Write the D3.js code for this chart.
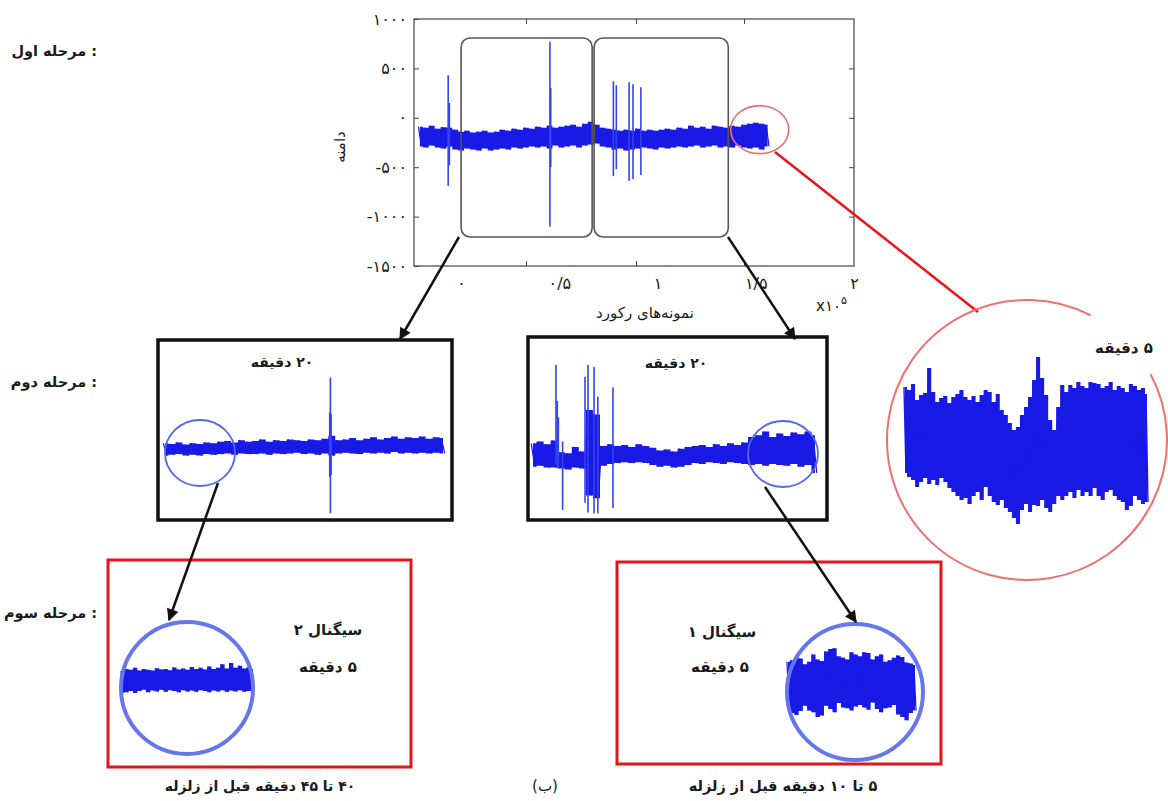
<!DOCTYPE html>
<html>
<head>
<meta charset="utf-8">
<script src="https://cdn.jsdelivr.net/npm/d3@7"></script>
<style>
    body { margin: 0; background: #fff; }
    svg { display: block; }
    text { font-family: "DejaVu Sans", sans-serif; fill: #1a1a1a; }
    .fa { direction: rtl; unicode-bidi: embed; }
</style>
</head>
<body>
<div id="chart"></div>
<script>
// ---- data ----

// top record (x in units of 10^5 samples, amplitude in counts)
const xTicks = [0, 0.5, 1, 1.5, 2];
const xTickLabels = ["۰", "۰/۵", "۱", "۱/۵", "۲"];
const xTickMarks = [0.33, 0.89, 1.44];
const yTicks = [1000, 500, 0, -500, -1000, -1500];
const yTickLabels = ["۱۰۰۰", "۵۰۰", "۰", "-۵۰۰", "-۱۰۰۰", "-۱۵۰۰"];

const topStart = -0.21, topStep = 0.03;
const topHi = [-90, -100, -80, -110, -95, -100, -120, -140, -130, -150,
    -140, -130, -150, -140, -120, -130, -110, -120, -100, -110,
    -90, -100, -80, -100, -90, -80, -70, -90, -60, -40,
    -70, -100, -110, -120, -130, -120, -130, -110, -130, -120,
    -130, -120, -110, -120, -100, -110, -80, -100, -90, -110,
    -80, -90, -100, -80, -90, -70, -60, -50, -60, -70];
const topLo = [-290, -300, -280, -300, -310, -290, -320, -330, -310, -320,
    -330, -310, -330, -320, -310, -320, -300, -310, -300, -290,
    -300, -290, -310, -280, -300, -290, -280, -300, -280, -270,
    -260, -290, -300, -320, -310, -330, -320, -310, -300, -310,
    -320, -300, -310, -300, -290, -300, -290, -280, -300, -290,
    -280, -300, -290, -300, -280, -300, -310, -300, -320, -290];
// [position, max, min]
const topSpikes = [[-0.066, 430, -690], [-0.06, 150, -480], [0.452, 770, -1100], [0.456, 300, -500],
    [0.775, 370, -590], [0.79, 330, -520], [0.855, 360, -640], [0.875, 340, -620], [0.915, 310, -580]];

// stage 2, left panel (minutes)
const mlStep = 0.5;
const mlHi = [80, 70, 90, 60, 80, 70, 90, 80, 100, 110, 90, 120, 100, 110, 130, 100,
    120, 110, 130, 120, 110, 130, 120, 140, 180, 120, 130, 150, 120, 140, 160, 130,
    150, 170, 140, 160, 150, 170, 140, 160, 150];
const mlLo = [-90, -80, -70, -90, -80, -90, -70, -80, -70, -60, -80, -60, -70, -70, -60, -80,
    -60, -70, -60, -50, -70, -60, -80, -60, -90, -60, -50, -60, -70, -50, -60, -50,
    -60, -40, -60, -50, -60, -50, -60, -50, -60];
const mlSpikes = [[11.9, 980, -880], [11.85, 500, -380], [11.95, 480, -360]];

// stage 2, right panel (minutes)
const mrStep = 0.5;
const mrHi = [130, 150, 120, 160, 30, 20, 90, 40, 500, 450, 100, 120, 100, 110, 90, 120,
    100, 80, 50, 60, 40, 70, 90, 100, 110, 90, 120, 100, 130, 110, 140, 200,
    220, 260, 200, 240, 210, 250, 230, 260, 220];
const mrLo = [-130, -120, -140, -140, -150, -160, -140, -150, -450, -480, -120, -100, -90, -80, -90, -80,
    -90, -110, -130, -120, -140, -130, -110, -90, -100, -80, -90, -100, -80, -90, -100, -110,
    -100, -120, -100, -110, -120, -100, -130, -110, -200];
const mrSpikes = [[1.63, 1000, -100], [1.72, 600, -120], [1.8, 420, -150], [2.1, 150, -610],
    [3.69, 870, -530], [3.9, 1000, -640], [4.33, 980, -650], [4.6, 650, -650], [5.67, 750, -590]];

// stage 3, signal 2 (40-45 min before) and signal 1 (5-10 min before)
const s2Step = 1 / 6;
const s2Hi = [250, 300, 280, 330, 260, 300, 280, 260, 320, 290, 300, 270, 340, 290, 310, 280,
    350, 300, 330, 290, 360, 300, 330, 420, 310, 450, 330, 380, 310, 340, 300];
const s2Lo = [-300, -280, -250, -300, -250, -220, -280, -240, -260, -220, -270, -230, -250, -280, -230, -260,
    -240, -270, -230, -250, -280, -240, -260, -230, -270, -240, -260, -230, -270, -250, -260];
const s1Step = 1 / 6;
const s1Hi = [580, 620, 700, 660, 520, 580, 760, 640, 600, 840, 900, 920, 720, 680, 640, 820,
    760, 720, 820, 800, 640, 720, 760, 580, 620, 680, 740, 700, 560, 540, 500];
const s1Lo = [-580, -700, -750, -650, -520, -640, -680, -800, -760, -520, -600, -680, -450, -560, -580, -640,
    -540, -500, -560, -620, -440, -600, -680, -580, -560, -500, -740, -800, -880, -700, -640];

// 5 minute zoom of the end of the record
const s5Step = 5 / 60;
const s5Hi = [530, 500, 560, 400, 450, 470, 720, 480, 380, 420, 440, 370, 430, 460, 500, 430,
    400, 440, 380, 450, 500, 480, 380, 460, 300, 250, 170, 100, 130, 250, 330, 430,
    600, 830, 620, 450, 200, 100, 330, 550, 480, 550, 520, 580, 540, 520, 580, 570,
    560, 520, 540, 580, 500, 540, 520, 480, 560, 540, 500, 520, 460];
const s5Lo = [-330, -370, -400, -470, -420, -380, -440, -400, -450, -380, -420, -480, -520, -560, -600, -580,
    -640, -560, -520, -600, -470, -560, -620, -650, -600, -680, -720, -780, -840, -700, -640, -720,
    -650, -660, -600, -680, -720, -640, -560, -600, -560, -520, -580, -500, -560, -520, -560, -480,
    -560, -600, -520, -500, -560, -600, -620, -700, -660, -560, -600, -640, -620];

// ---- drawing ----
const W = 1168, H = 801;
const BLUE = "#1a1ae6", SPIKE = "#3344ee";

const svg = d3.select("#chart").append("svg")
    .attr("width", W)
    .attr("height", H);

svg.append("defs").append("marker")
    .attr("id", "ah")
    .attr("viewBox", "0 0 10 10")
    .attr("refX", 9).attr("refY", 5)
    .attr("markerWidth", 14).attr("markerHeight", 12)
    .attr("markerUnits", "userSpaceOnUse")
    .attr("orient", "auto")
    .append("path")
    .attr("d", "M0,0L10,5L0,10z")
    .attr("fill", "#111");

// dense signal: a band between the max and min of each sample bin,
// plus a zigzag trace running max -> min inside every bin
function band(g, x, y, start, step, hi, lo, lw) {
    const area = d3.area()
        .curve(d3.curveStep)
        .x((d, i) => x(start + i * step))
        .y0((d, i) => y(lo[i]))
        .y1((d, i) => y(hi[i]));
    g.append("path")
        .attr("d", area(hi))
        .attr("fill", BLUE);

    const pts = [];
    hi.forEach((h, i) => {
        const t = start + i * step;
        pts.push([x(t - step / 4), y(h)]);
        pts.push([x(t + step / 4), y(lo[i])]);
    });
    g.append("path")
        .attr("d", d3.line()(pts))
        .attr("fill", "none")
        .attr("stroke", BLUE)
        .attr("stroke-width", lw || 1.2)
        .attr("stroke-linejoin", "bevel");
}

function spikes(g, x, y, list) {
    g.selectAll(null)
        .data(list)
        .enter().append("line")
        .attr("x1", d => x(d[0])).attr("x2", d => x(d[0]))
        .attr("y1", d => y(d[1])).attr("y2", d => y(d[2]))
        .attr("stroke", SPIKE)
        .attr("stroke-width", 1.6);
}

function faText(x, y, str, size, bold, anchor) {
    return svg.append("text")
        .attr("class", "fa")
        .attr("x", x).attr("y", y)
        .attr("text-anchor", anchor || "middle")
        .attr("font-size", size)
        .attr("font-weight", bold ? "bold" : "normal")
        .text(str);
}

function arrow(x1, y1, x2, y2) {
    svg.append("line")
        .attr("x1", x1).attr("y1", y1)
        .attr("x2", x2).attr("y2", y2)
        .attr("stroke", "#111")
        .attr("stroke-width", 2.5)
        .attr("marker-end", "url(#ah)");
}

// stage labels
faText(97, 56, ": مرحله اول", 14.5, true, "start");
faText(97, 387, ": مرحله دوم", 14.5, true, "start");
faText(97, 618, ": مرحله سوم", 14.5, true, "start");

// ---- top record ----
const xTop = d3.scaleLinear().domain([-0.24, 2]).range([414, 854]);
const yTop = d3.scaleLinear().domain([-1500, 1000]).range([266, 19]);
const gTop = svg.append("g");

gTop.append("rect")
    .attr("x", xTop(-0.24)).attr("y", yTop(1000))
    .attr("width", xTop(2) - xTop(-0.24))
    .attr("height", yTop(-1500) - yTop(1000))
    .attr("fill", "none")
    .attr("stroke", "#444")
    .attr("stroke-width", 1.2);

const axL = gTop.append("g")
    .attr("transform", `translate(${xTop(-0.24)},0)`)
    .call(d3.axisLeft(yTop).tickValues(yTicks)
        .tickFormat((d, i) => yTickLabels[i])
        .tickSizeInner(-5).tickSizeOuter(0).tickPadding(7));
const axR = gTop.append("g")
    .attr("transform", `translate(${xTop(2)},0)`)
    .call(d3.axisRight(yTop).tickValues(yTicks.slice(1, 5))
        .tickFormat("").tickSizeInner(-5).tickSizeOuter(0));
const axB = gTop.append("g")
    .attr("transform", `translate(0,${yTop(-1500)})`)
    .call(d3.axisBottom(xTop).tickValues(xTicks)
        .tickFormat((d, i) => xTickLabels[i])
        .tickSize(0).tickPadding(12));
const axBm = gTop.append("g")
    .attr("transform", `translate(0,${yTop(-1500)})`)
    .call(d3.axisBottom(xTop).tickValues(xTickMarks)
        .tickFormat("").tickSizeInner(-5).tickSizeOuter(0));
const axT = gTop.append("g")
    .attr("transform", `translate(0,${yTop(1000)})`)
    .call(d3.axisTop(xTop).tickValues(xTickMarks)
        .tickFormat("").tickSizeInner(-5).tickSizeOuter(0));
[axL, axR, axB, axBm, axT].forEach(a => {
    a.select(".domain").remove();
    a.selectAll("line").attr("stroke", "#444");
    a.selectAll("text")
        .attr("font-size", 16)
        .attr("letter-spacing", 1.5)
        .attr("font-family", "DejaVu Sans")
        .attr("fill", "#1a1a1a");
});

band(gTop, xTop, yTop, topStart, topStep, topHi, topLo);
spikes(gTop, xTop, yTop, topSpikes);

// the two 20 minute windows
gTop.selectAll(".win")
    .data([[0, 0.667], [0.677, 1.36]])
    .enter().append("rect")
    .attr("x", d => xTop(d[0]))
    .attr("y", yTop(808))
    .attr("width", d => xTop(d[1]) - xTop(d[0]))
    .attr("height", yTop(-1206) - yTop(808))
    .attr("rx", 9)
    .attr("fill", "none")
    .attr("stroke", "#555")
    .attr("stroke-width", 1.6);

gTop.append("ellipse")
    .attr("cx", xTop(1.52)).attr("cy", yTop(-120))
    .attr("rx", 29).attr("ry", 24)
    .attr("fill", "none")
    .attr("stroke", "#e87070")
    .attr("stroke-width", 1.6);

svg.append("text")
    .attr("class", "fa")
    .attr("transform", "translate(345,147) rotate(-90)")
    .attr("text-anchor", "middle")
    .attr("font-size", 15)
    .text("دامنه");
faText(645, 318, "نمونه\u200cهای رکورد", 15, false);
const xPow = svg.append("text")
    .attr("x", 816).attr("y", 311)
    .attr("font-size", 15);
xPow.append("tspan").text("x۱۰");
xPow.append("tspan").attr("dy", -7).attr("font-size", 11).text("۵");

// red zoom line and big circle
svg.append("line")
    .attr("x1", 775).attr("y1", 152)
    .attr("x2", 978).attr("y2", 312)
    .attr("stroke", "#e8151b")
    .attr("stroke-width", 2.5);

const bigArc = d3.arc()
    .innerRadius(140).outerRadius(140)
    .startAngle(62 * Math.PI / 180)
    .endAngle((360 + 27) * Math.PI / 180);
svg.append("path")
    .attr("transform", "translate(1027,440)")
    .attr("d", bigArc())
    .attr("fill", "none")
    .attr("stroke", "#ee7070")
    .attr("stroke-width", 2);

const xS5 = d3.scaleLinear().domain([0, 5]).range([905, 1147]);
const yS5 = d3.scaleLinear().domain([-1000, 1000]).range([540, 340]);
band(svg.append("g"), xS5, yS5, 0, s5Step, s5Hi, s5Lo, 1.4);
faText(1124, 353, "۵ دقیقه", 15, true);

// ---- stage 2 ----
arrow(459, 237, 400, 339);
arrow(728, 237, 795, 339);

svg.selectAll(".box2")
    .data([[158, 340, 294, 180], [528, 337, 299, 183]])
    .enter().append("rect")
    .attr("x", d => d[0]).attr("y", d => d[1])
    .attr("width", d => d[2]).attr("height", d => d[3])
    .attr("fill", "none")
    .attr("stroke", "#111")
    .attr("stroke-width", 3.5);

const xML = d3.scaleLinear().domain([0, 20]).range([165, 443]);
const yML = d3.scaleLinear().domain([-1000, 1000]).range([522, 376]);
const gML = svg.append("g");
band(gML, xML, yML, 0, mlStep, mlHi, mlLo);
spikes(gML, xML, yML, mlSpikes);

const xMR = d3.scaleLinear().domain([0, 20]).range([533, 815]);
const yMR = d3.scaleLinear().domain([-1000, 1000]).range([545, 365]);
const gMR = svg.append("g");
band(gMR, xMR, yMR, 0, mrStep, mrHi, mrLo);
spikes(gMR, xMR, yMR, mrSpikes);

svg.selectAll(".c2")
    .data([[200, 453], [783, 454]])
    .enter().append("ellipse")
    .attr("cx", d => d[0]).attr("cy", d => d[1])
    .attr("rx", 35).attr("ry", 33)
    .attr("fill", "none")
    .attr("stroke", "#5566ee")
    .attr("stroke-width", 1.8);

faText(282, 367, "۲۰ دقیقه", 14, true);
faText(676, 368, "۲۰ دقیقه", 14, true);

// ---- stage 3 ----
svg.selectAll(".box3")
    .data([[108, 560, 303, 207], [617, 562, 324, 202]])
    .enter().append("rect")
    .attr("x", d => d[0]).attr("y", d => d[1])
    .attr("width", d => d[2]).attr("height", d => d[3])
    .attr("fill", "none")
    .attr("stroke", "#e4141b")
    .attr("stroke-width", 3);

const xS2 = d3.scaleLinear().domain([0, 5]).range([122, 253]);
const yS2 = d3.scaleLinear().domain([-1000, 1000]).range([721, 641]);
band(svg.append("g"), xS2, yS2, 0, s2Step, s2Hi, s2Lo);

const xS1 = d3.scaleLinear().domain([0, 5]).range([788, 915]);
const yS1 = d3.scaleLinear().domain([-1000, 1000]).range([725, 645]);
band(svg.append("g"), xS1, yS1, 0, s1Step, s1Hi, s1Lo);

svg.selectAll(".c3")
    .data([[187, 688, 66], [855, 692, 68]])
    .enter().append("circle")
    .attr("cx", d => d[0]).attr("cy", d => d[1])
    .attr("r", d => d[2])
    .attr("fill", "none")
    .attr("stroke", "#6677ee")
    .attr("stroke-width", 4);

arrow(218, 483, 169, 620);
arrow(765, 487, 856, 622);

faText(328, 635, "سیگنال ۲", 15, true);
faText(328, 672, "۵ دقیقه", 15, true);
faText(722, 637, "سیگنال ۱", 15, true);
faText(720, 672, "۵ دقیقه", 15, true);

faText(260, 791, "۴۰ تا ۴۵ دقیقه قبل از زلزله", 14, true);
faText(783, 791, "۵ تا ۱۰ دقیقه قبل از زلزله", 14.5, true);
faText(545, 791, "(ب)", 15, false);
</script>
</body>
</html>
